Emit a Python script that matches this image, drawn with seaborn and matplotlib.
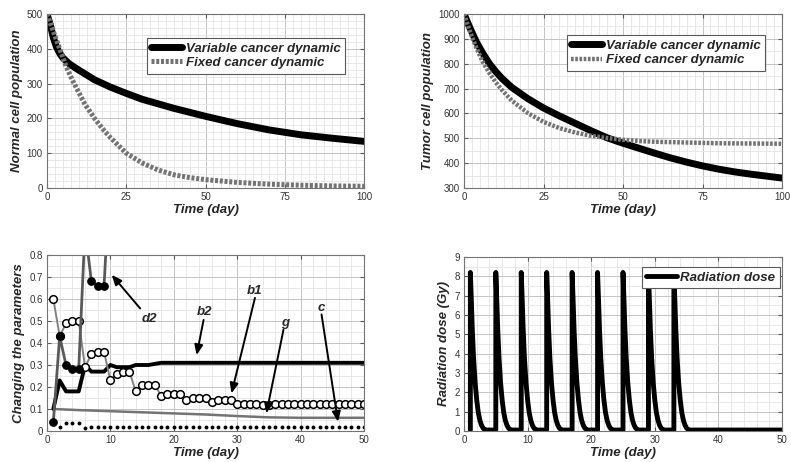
import numpy as np
import pandas as pd
import matplotlib
matplotlib.use("Agg")
import matplotlib.pyplot as plt
from matplotlib.ticker import MultipleLocator
import seaborn as sns

# ---- data ----
# top-left: normal cell population
nt_var = [0, 1, 2, 3, 4, 5, 7, 10, 15, 20, 25, 30, 40, 50, 60, 70, 75, 80, 90, 100]
normal_var = [500, 470, 432, 405, 387, 374, 357, 339, 311, 290, 272, 255, 229, 206, 185, 167, 160, 153, 143, 134]
nt_fix = [0, 2, 4, 6, 8, 10, 12, 15, 18, 20, 25, 30, 35, 40, 45, 50, 60, 70, 80, 90, 100]
normal_fix = [500, 450, 400, 350, 310, 275, 240, 200, 165, 145, 100, 72, 52, 38, 30, 24, 16, 11, 8, 6, 5]

# top-right: tumor cell population
tt_var = [0, 2, 4, 6, 8, 10, 12, 15, 20, 25, 30, 35, 40, 45, 50, 55, 60, 65, 70, 75, 80, 85, 90, 95, 100]
tumor_var = [1000, 940, 885, 840, 800, 768, 740, 705, 660, 622, 590, 560, 530, 502, 480, 460, 440, 421, 404, 389, 376, 365, 356, 348, 340]
tt_fix = [0, 2, 4, 6, 8, 10, 12, 15, 20, 25, 30, 35, 40, 45, 50, 55, 60, 70, 80, 90, 100]
tumor_fix = [1000, 925, 860, 805, 762, 725, 693, 652, 602, 566, 541, 523, 510, 501, 494, 489, 486, 483, 480, 479, 478]

# bottom-left: parameters
days = list(range(1, 51))
b1 = [0.60, 0.43, 0.49, 0.50, 0.50, 0.29, 0.35, 0.36, 0.36, 0.23,
      0.26, 0.27, 0.27, 0.18, 0.21, 0.21, 0.21, 0.16, 0.17, 0.17,
      0.17, 0.14, 0.15, 0.15, 0.15, 0.13, 0.14, 0.14, 0.14, 0.125,
      0.125, 0.125, 0.125, 0.12, 0.12, 0.125, 0.125, 0.125, 0.125, 0.125,
      0.125, 0.125, 0.125, 0.125, 0.125, 0.125, 0.125, 0.125, 0.125, 0.125]
b2 = [0.10, 0.23, 0.18, 0.18, 0.18, 0.30, 0.27, 0.27, 0.27, 0.30,
      0.29, 0.29, 0.29, 0.30, 0.30, 0.30, 0.305, 0.31, 0.31, 0.31,
      0.31, 0.31, 0.31, 0.31, 0.31, 0.31, 0.31, 0.31, 0.31, 0.31,
      0.31, 0.31, 0.31, 0.31, 0.31, 0.31, 0.31, 0.31, 0.31, 0.31,
      0.31, 0.31, 0.31, 0.31, 0.31, 0.31, 0.31, 0.31, 0.31, 0.31]
c_par = [0.04, 0.02, 0.035, 0.035, 0.035, 0.015] + [0.02] * 44
d2_days = [1, 2, 3, 4, 5, 6, 7, 8, 9, 10]
d2 = [0.04, 0.43, 0.30, 0.28, 0.28, 0.92, 0.68, 0.66, 0.66, 1.2]
g_days = [1, 5, 10, 15, 20, 25, 30, 35, 40, 45, 50]
g_par = [0.10, 0.095, 0.09, 0.085, 0.08, 0.075, 0.068, 0.062, 0.06, 0.06, 0.06]

# bottom-right: radiation dose, one decay after each fraction
pulse_days = [1, 5, 9, 13, 17, 21, 25, 29, 33]
decay_dt = [0, 0.15, 0.3, 0.5, 0.75, 1.0, 1.25, 1.5, 1.75, 2.0, 2.3]
decay_dose = [8.2, 6.8, 5.3, 3.8, 2.5, 1.6, 0.95, 0.55, 0.3, 0.15, 0.06]
base_dose = 0.05
end_day = 50

rad_t, rad_d = [], []
for p in pulse_days:
    rad_t.append(p)
    rad_d.append(base_dose)
    rad_t += [p + dt for dt in decay_dt]
    rad_d += decay_dose
    rad_t.append(p + 2.6)
    rad_d.append(base_dose)
rad_t.append(end_day)
rad_d.append(base_dose)

# ---- style ----
sns.set_style("white")
plt.rcParams['font.family'] = ['Liberation Sans', 'DejaVu Sans']
lab = dict(fontsize=9.5, fontweight='bold', fontstyle='italic')

fig = plt.figure(figsize=(7.91, 4.62), dpi=100)
W, H = 791.0, 462.0


def make_ax(l, r, t, b):
    return fig.add_axes([l / W, 1 - b / H, (r - l) / W, (b - t) / H])


def dress(ax, xmaj, xmin, ymaj, ymin):
    ax.xaxis.set_major_locator(MultipleLocator(xmaj))
    ax.xaxis.set_minor_locator(MultipleLocator(xmin))
    ax.yaxis.set_major_locator(MultipleLocator(ymaj))
    ax.yaxis.set_minor_locator(MultipleLocator(ymin))
    ax.grid(which='minor', color='#e4e4e4', lw=0.6)
    ax.grid(which='major', color='#c4c4c4', lw=0.7)
    ax.set_axisbelow(True)
    ax.tick_params(which='major', direction='in', length=3, top=True, right=True,
                   bottom=True, left=True, labelsize=7, pad=3, color='0.35',
                   labelcolor='0.2')
    ax.tick_params(which='minor', length=0)
    for s in ax.spines.values():
        s.set_color('0.45')
        s.set_linewidth(0.8)


def legend(ax, x, y):
    leg = ax.legend(loc='upper right', bbox_to_anchor=(x, y), borderaxespad=0,
                    fancybox=False, edgecolor='0.35', framealpha=1,
                    prop=dict(size=9.5, weight='bold', style='italic'),
                    handlelength=2.3, handletextpad=0.3, labelspacing=0.15,
                    borderpad=0.35)
    leg.get_frame().set_linewidth(0.8)


fixed_ls = (0, (0.6, 0.35))

# top-left
ax1 = make_ax(47, 364, 14, 188)
sns.lineplot(x=nt_var, y=normal_var, ax=ax1, color='black', lw=5, label='Variable cancer dynamic')
sns.lineplot(x=nt_fix, y=normal_fix, ax=ax1, color='0.45', lw=3.6, ls=fixed_ls, label='Fixed cancer dynamic')
ax1.set_xlim(0, 100)
ax1.set_ylim(0, 500)
dress(ax1, 25, 2.5, 100, 20)
ax1.set_xlabel('Time (day)', **lab)
ax1.set_ylabel('Normal cell population', **lab)
legend(ax1, 0.94, 0.862)

# top-right
ax2 = make_ax(464, 782, 14, 188)
sns.lineplot(x=tt_var, y=tumor_var, ax=ax2, color='black', lw=5, label='Variable cancer dynamic')
sns.lineplot(x=tt_fix, y=tumor_fix, ax=ax2, color='0.45', lw=3.2, ls=fixed_ls, label='Fixed cancer dynamic')
ax2.set_xlim(0, 100)
ax2.set_ylim(300, 1000)
dress(ax2, 25, 2.5, 100, 50)
ax2.set_xlabel('Time (day)', **lab)
ax2.set_ylabel('Tumor cell population', **lab)
legend(ax2, 0.947, 0.879)

# bottom-left
ax3 = make_ax(47, 364, 255, 431)
sns.lineplot(x=g_days, y=g_par, ax=ax3, color='0.45', lw=1.8)
sns.lineplot(x=days, y=c_par, ax=ax3, color='black', ls='none', marker='o', ms=2.8, mew=0)
sns.lineplot(x=days, y=b2, ax=ax3, color='black', lw=2.8)
sns.lineplot(x=days, y=b1, ax=ax3, color='0.5', lw=1.4, marker='o', ms=5.5,
             mfc='white', mec='black', mew=1.1)
sns.lineplot(x=d2_days, y=d2, ax=ax3, color='0.35', lw=2, marker='o', ms=5.5,
             mfc='black', mec='black')
ax3.set_xlim(0, 50)
ax3.set_ylim(0, 0.8)
dress(ax3, 10, 2, 0.1, 0.05)
ax3.set_yticks(np.arange(0, 0.81, 0.1))
ax3.set_yticklabels(['0'] + ['%.1f' % v for v in np.arange(0.1, 0.81, 0.1)])
ax3.set_xlabel('Time (day)', **lab)
ax3.set_ylabel('Changing the parameters', **lab)

arrows = [('d2', (16.2, 0.51), (14.7, 0.557), (10.2, 0.71)),
          ('b2', (24.9, 0.54), (24.7, 0.505), (23.6, 0.345)),
          ('b1', (32.8, 0.635), (32.8, 0.605), (29.1, 0.171)),
          ('g', (37.5, 0.49), (37.3, 0.46), (34.6, 0.08)),
          ('c', (43.3, 0.56), (43.3, 0.53), (45.9, 0.042))]
for name, tpos, a0, a1 in arrows:
    ax3.text(tpos[0], tpos[1], name, ha='center', va='center', **lab)
    ax3.annotate('', xy=a1, xytext=a0,
                 arrowprops=dict(arrowstyle='-|>,head_length=0.6,head_width=0.25',
                                 color='black', lw=1.4, shrinkA=0, shrinkB=0))

# bottom-right
ax4 = make_ax(464, 782, 257, 431)
sns.lineplot(x=rad_t, y=rad_d, ax=ax4, color='black', lw=3.5, estimator=None, sort=False,
             label='Radiation dose')
ax4.set_xlim(0, 50)
ax4.set_ylim(0, 9)
dress(ax4, 10, 2, 1, 0.5)
ax4.set_xlabel('Time (day)', **lab)
ax4.set_ylabel('Radiation dose (Gy)', **lab)
legend(ax4, 0.994, 0.944)

for ax in (ax1, ax2, ax3, ax4):
    ax.xaxis.labelpad = 1
    ax.yaxis.labelpad = 3

fig.savefig('out.png', dpi=100)
